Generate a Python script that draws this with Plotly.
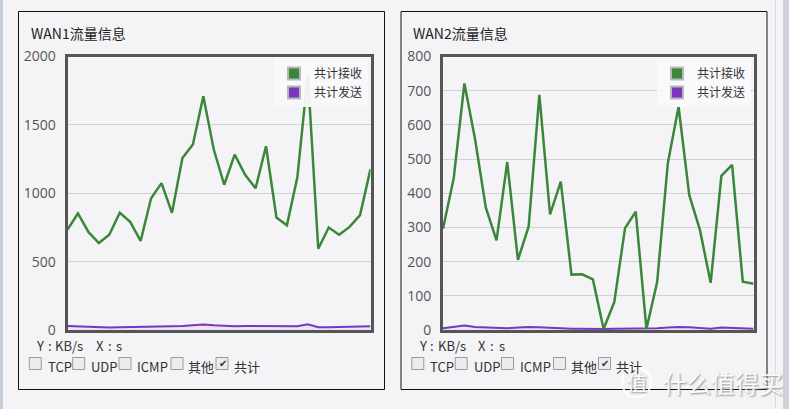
import plotly.graph_objects as go

W, H = 789, 409

# ---------------- data ----------------
seconds = list(range(30))
wan1_recv = [734, 852, 717, 636, 697, 857, 791, 651, 963, 1074, 857, 1258, 1357, 1710, 1320,
             1062, 1283, 1135, 1037, 1344, 823, 766, 1116, 1870, 594, 749, 697, 754, 840, 1177]
wan1_send = [30, 26, 22, 20, 19, 20, 21, 20, 22, 24, 27, 30, 36, 40, 34,
             30, 28, 29, 28, 30, 26, 24, 28, 42, 20, 21, 22, 24, 26, 28]
wan2_recv = [296, 444, 721, 557, 358, 262, 491, 205, 303, 688, 338, 434, 162, 163, 148,
             3, 82, 298, 346, 3, 140, 488, 653, 395, 292, 138, 451, 483, 141, 135]
wan2_send = [5, 8, 13, 9, 7, 6, 5, 7, 9, 8, 6, 5, 4, 4, 3,
             3, 4, 4, 5, 4, 5, 7, 9, 8, 5, 4, 7, 6, 4, 4]

titles = ["WAN1流量信息", "WAN2流量信息"]
series_names = ["共计接收", "共计发送"]
y_ranges = [[0, 2000], [0, 800]]
y_dticks = [500, 100]
checkbox_labels = ["TCP", "UDP", "ICMP", "其他", "共计"]
checkbox_checked = [False, False, False, False, True]
unit_tokens = ["Y", ":", "KB/s", "X", ":", "s"]

GREEN = "#3a873a"
PURPLE = "#7b35c0"
BG = "#f4f4f6"
FONT = "Noto Sans CJK SC, Open Sans, sans-serif"
TICKFONT = "Open Sans, Noto Sans, sans-serif"


def px(x):
    return x / W


def py(y):
    return 1 - y / H


fig = go.Figure()

recv = [wan1_recv, wan2_recv]
send = [wan1_send, wan2_send]
for i in range(2):
    xa = "x" if i == 0 else "x2"
    ya = "y" if i == 0 else "y2"
    lg = "legend" if i == 0 else "legend2"
    fig.add_trace(go.Scatter(x=seconds, y=send[i], mode="lines", xaxis=xa, yaxis=ya,
                             line=dict(color=PURPLE, width=2), showlegend=False,
                             fill="tozeroy", fillcolor="rgba(123,53,192,0.08)"))
    fig.add_trace(go.Scatter(x=seconds, y=recv[i], mode="lines", xaxis=xa, yaxis=ya,
                             line=dict(color=GREEN, width=2.5), showlegend=False))
    for name, col in zip(series_names, [GREEN, PURPLE]):
        fig.add_trace(go.Scatter(x=[None], y=[None], mode="markers", name=name,
                                 xaxis=xa, yaxis=ya, legend=lg,
                                 marker=dict(symbol="square", size=14, color=col,
                                             line=dict(color="#b8b8b8", width=1))))

# plot area positions (pixels)
plot_x = [(67.5, 370.5), (443.0, 753.5)]
plot_y = (56.5, 330.0)

axis_common = dict(showline=True, linewidth=3, linecolor="#555555", mirror=True,
                   zeroline=False, automargin=False)
fig.update_layout(
    xaxis=dict(domain=[px(plot_x[0][0]), px(plot_x[0][1])], range=[0, 29],
               showgrid=False, showticklabels=False, ticks="", **axis_common),
    yaxis=dict(domain=[py(plot_y[1]), py(plot_y[0])], range=y_ranges[0], dtick=y_dticks[0],
               showgrid=True, gridcolor="#d2d2d2", gridwidth=1, ticks="",
               ticklabelstandoff=6,
               tickfont=dict(size=14, color="#555555", family=TICKFONT), **axis_common),
    xaxis2=dict(domain=[px(plot_x[1][0]), px(plot_x[1][1])], range=[0, 29], anchor="y2",
                showgrid=False, showticklabels=False, ticks="", **axis_common),
    yaxis2=dict(domain=[py(plot_y[1]), py(plot_y[0])], range=y_ranges[1], dtick=y_dticks[1],
                anchor="x2", showgrid=True, gridcolor="#d2d2d2", gridwidth=1, ticks="",
                ticklabelstandoff=6,
                tickfont=dict(size=14, color="#555555", family=TICKFONT), **axis_common),
)

legend_common = dict(xanchor="right", yanchor="top", bgcolor="rgba(249,249,251,0.94)",
                     borderwidth=0, font=dict(size=12, color="#333333", family=FONT),
                     itemsizing="constant", tracegroupgap=0, itemwidth=30)
fig.update_layout(
    legend=dict(x=px(368), y=py(59), **legend_common),
    legend2=dict(x=px(751), y=py(59), **legend_common),
)

shapes = []
annotations = []
# page side strips
shapes.append(dict(type="rect", xref="paper", yref="paper", x0=0, x1=px(3), y0=0, y1=1,
                   fillcolor="#c3ccd9", line=dict(width=0), layer="below"))
shapes.append(dict(type="rect", xref="paper", yref="paper", x0=px(783), x1=1, y0=0, y1=1,
                   fillcolor="#cdd2db", line=dict(width=0), layer="below"))
shapes.append(dict(type="line", xref="paper", yref="paper", x0=px(775.5), x1=px(775.5), y0=0, y1=1,
                   line=dict(color="#dcdde2", width=1), layer="below"))

unit_x = [34.0, 45.5, 53.3, 93.5, 106.0, 114.0]
for i in range(2):
    dx = 0 if i == 0 else 382.5
    # panel frame
    shapes.append(dict(type="rect", xref="paper", yref="paper",
                       x0=px(18.5 + dx), x1=px(384.5 + dx if i == 0 else 767),
                       y0=py(389.5), y1=py(11.5),
                       line=dict(color="#111111", width=1), fillcolor="rgba(0,0,0,0)",
                       layer="below"))
    annotations.append(dict(xref="paper", yref="paper", x=px(28.5 + dx), y=py(33),
                            xanchor="left", yanchor="middle", showarrow=False,
                            text=titles[i], font=dict(size=14, color="#222222", family=FONT)))
    for ux, tok in zip(unit_x, unit_tokens):
        annotations.append(dict(xref="paper", yref="paper", x=px(ux + dx), y=py(345.5),
                                xanchor="left", yanchor="middle", showarrow=False,
                                text=tok, font=dict(size=13, color="#333333", family=FONT)))
    box_x = [29.3, 72.7, 119.0, 171.0, 216.0]
    lab_x = [46.0, 89.3, 135.0, 186.0, 231.7]
    for bx, lx, lab, chk in zip(box_x, lab_x, checkbox_labels, checkbox_checked):
        shapes.append(dict(type="rect", xref="paper", yref="paper",
                           x0=px(bx + dx), x1=px(bx + dx + 12), y0=py(369.5), y1=py(357.5),
                           fillcolor="#ececec", line=dict(color="#9a9a9a", width=1)))
        if chk:
            annotations.append(dict(xref="paper", yref="paper", x=px(bx + dx + 6.5), y=py(363),
                                    xanchor="center", yanchor="middle", showarrow=False,
                                    text="✔", font=dict(size=10, color="#333333", family="DejaVu Sans")))
        annotations.append(dict(xref="paper", yref="paper", x=px(lx + dx), y=py(366.5),
                                xanchor="left", yanchor="middle", showarrow=False,
                                text=lab, font=dict(size=13, color="#333333", family=FONT)))

# watermark
shapes.append(dict(type="circle", xref="paper", yref="paper", x0=px(622), x1=px(651),
                   y0=py(397), y1=py(368), line=dict(color="rgba(255,255,255,0.9)", width=2)))
annotations.append(dict(xref="paper", yref="paper", x=px(636.5), y=py(382.5), showarrow=False,
                        xanchor="center", yanchor="middle", text="值",
                        font=dict(size=20, color="rgba(255,255,255,0.95)", family=FONT,
                                  shadow="1px 1px 2px #888")))
annotations.append(dict(xref="paper", yref="paper", x=px(661), y=py(382), showarrow=False,
                        xanchor="left", yanchor="middle", text="什么值得买",
                        font=dict(size=24, color="rgba(255,255,255,0.95)", family=FONT,
                                  shadow="1px 1px 2px #888")))

fig.update_layout(
    width=W, height=H, margin=dict(l=0, r=0, t=0, b=0, pad=0, autoexpand=False),
    paper_bgcolor=BG, plot_bgcolor=BG,
    shapes=shapes, annotations=annotations,
    font=dict(family=FONT),
)

fig.write_html("out.html", config={"displayModeBar": False})
